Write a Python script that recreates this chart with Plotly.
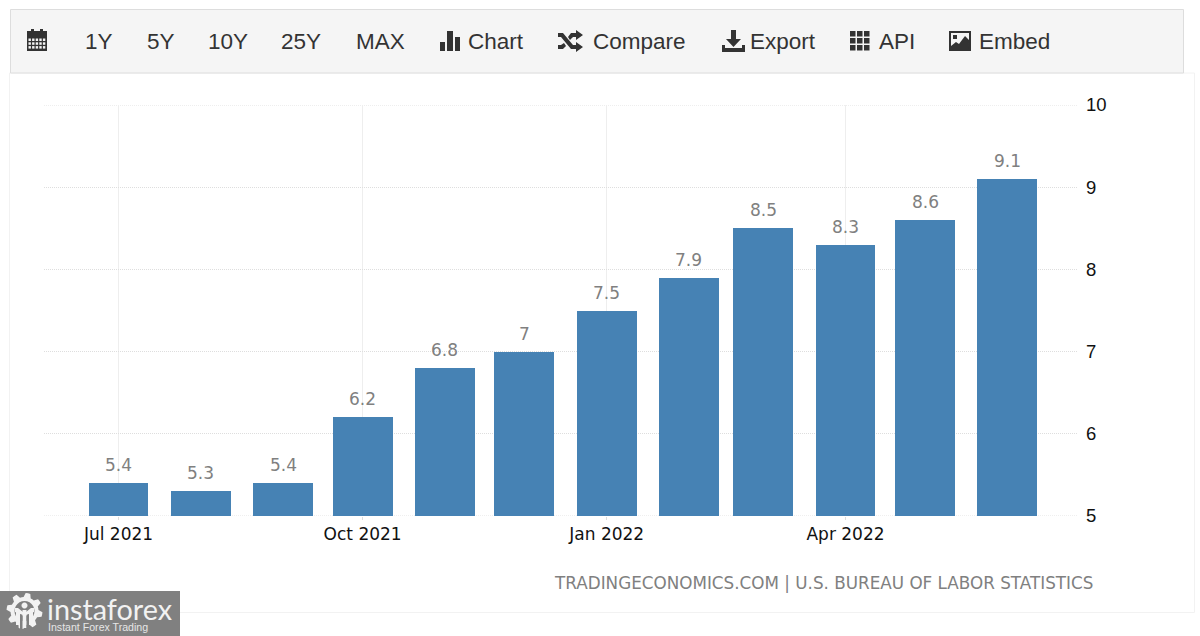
import math
import plotly.graph_objects as go

months = ["2021-07-01","2021-08-01","2021-09-01","2021-10-01","2021-11-01","2021-12-01",
          "2022-01-01","2022-02-01","2022-03-01","2022-04-01","2022-05-01","2022-06-01"]
values = [5.4,5.3,5.4,6.2,6.8,7,7.5,7.9,8.5,8.3,8.6,9.1]
tick_dates = ["2021-07-01","2021-10-01","2022-01-01","2022-04-01"]
tick_labels = ["Jul 2021","Oct 2021","Jan 2022","Apr 2022"]
y_ticks = [5,6,7,8,9,10]
menu_items = ["1Y","5Y","10Y","25Y","MAX","Chart","Compare","Export","API","Embed"]
menu_x = [83,145,206,279,354,466,591,748,877,977]
source_text = "TRADINGECONOMICS.COM | U.S. BUREAU OF LABOR STATISTICS"

W, H = 1200, 636
L, R, T, B = 44, 1078, 105, 516
px = lambda x: (x - L) / (R - L)
py = lambda y: (B - y) / (B - T)

DAY = 86400000
BAR = "#4682b4"
GRID_H = "#dedede"
shapes, ann = [], []

def rect(x0, y0, x1, y1, fill, line=None, lw=1, layer="above"):
    shapes.append(dict(type="rect", xref="paper", yref="paper", x0=px(x0), x1=px(x1), y0=py(y0), y1=py(y1),
                       fillcolor=fill, line=dict(color=line or fill, width=lw if line else 0), layer=layer))

def path(points, fill):
    d = "M" + " L".join(f"{px(a):.5f},{py(b):.5f}" for a, b in points) + " Z"
    shapes.append(dict(type="path", xref="paper", yref="paper", path=d, fillcolor=fill, line=dict(width=0), layer="above"))

def disc(cx, cy, r, fill):
    path([(cx + r * math.cos(i / 24 * 2 * math.pi), cy + r * math.sin(i / 24 * 2 * math.pi)) for i in range(24)], fill)

def text(x, y, s, size, color, font="Liberation Sans", anchor="left"):
    ann.append(dict(xref="paper", yref="paper", x=px(x), y=py(y), text=s, showarrow=False, xanchor=anchor,
                    yanchor="middle", font=dict(family=font, size=size, color=color)))

# end gridlines, which the axis leaves out at the edges of its range
for yv in (y_ticks[0], y_ticks[-1]):
    shapes.append(dict(type="line", xref="paper", yref="y", x0=0, x1=1, y0=yv, y1=yv, layer="below",
                       line=dict(color=GRID_H, width=1, dash="1px,1px")))

# page frame and toolbar
rect(9.5, 73, 1194.5, 612.5, "rgba(0,0,0,0)", "#f2f2f2", 1, "below")
rect(10.5, 9.5, 1183.5, 73, "#f5f5f5", "#dddddd", 1)
INK = "#333333"
for s, x in zip(menu_items, menu_x):
    text(x, 41.5, s, 22.5, INK)

# calendar icon
rect(27, 32, 47, 51, INK)
rect(27, 31, 47, 36, INK)
rect(31, 29, 34, 33, INK); rect(40, 29, 43, 33, INK)
for r in range(3):
    for c in range(5):
        rect(28.5 + c * 3.6, 38.5 + r * 3.8, 30.9 + c * 3.6, 41 + r * 3.8, "#f5f5f5")
# bar chart icon
rect(440, 42, 445, 51, INK); rect(447, 31, 453, 51, INK); rect(455, 37, 460, 51, INK)
# shuffle icon
path([(558,33),(563,33),(573,45),(576,45),(576,42),(583,47),(576,52),(576,49),(571,49),(561,37),(558,37)], INK)
path([(558,49),(563,49),(566,46),(564,43),(561,45),(558,45)], INK)
path([(568,37),(571,33),(576,33),(576,30),(583,35),(576,40),(576,37),(573,37),(570,40)], INK)
# download icon
path([(731,30),(736,30),(736,39),(741,39),(733.5,47),(726,39),(731,39)], INK)
path([(722,45),(725,45),(725,48),(742,48),(742,45),(745,45),(745,52),(722,52)], INK)
# API grid icon
for r in range(3):
    for c in range(3):
        rect(850 + c * 7, 31 + r * 7, 855.5 + c * 7, 36.5 + r * 7, INK)
# image icon
rect(949, 31, 971, 51, INK)
rect(951, 33, 969, 47, "#f5f5f5")
rect(953, 35, 957, 39, INK)
path([(951,49),(951,46),(956,42),(959,44),(965,36),(969,40),(969,49)], INK)

# source line
text(1094.5, 583, source_text, 16.8, "#808080", "DejaVu Sans", "right")

# watermark
WM = "#808080"
LT = "#f2f2f2"
rect(0, 591, 180, 636, WM)
gear = []
for i in range(48):
    a = (i + 0.5) / 48 * 2 * math.pi
    r = 18 if (i % 6) in (0, 1, 2) else 14
    gear.append((24.5 + r * math.cos(a), 611 + r * math.sin(a)))
path(gear, LT)
disc(24.5, 611, 10, WM)
disc(24.5, 605.5, 3, LT)
rect(22.5, 610, 26.5, 628, LT)
path([(15,608),(18,608),(23,612),(23,615),(15,612)], LT)
path([(34,608),(31,608),(26,612),(26,615),(34,612)], LT)
rect(16, 611, 20, 625, LT)
rect(29, 611, 33, 625, LT)
rect(20, 616, 22.5, 630, WM)
rect(26.5, 616, 29, 630, WM)
text(45, 609, "instaforex", 28.8, LT, "Lato")
text(46, 627, "Instant Forex Trading", 10.6, "#e6e6e6", "Liberation Sans")

# value labels anchored to the bars
for m, v in zip(months, values):
    ann.append(dict(xref="x", yref="y", x=m, y=v, text=str(v), showarrow=False, xanchor="center",
                    yanchor="bottom", yshift=6, font=dict(family="DejaVu Sans", size=17, color="#808080")))

fig = go.Figure(go.Bar(
    x=months, y=values, width=22.6 * DAY, marker=dict(color=BAR, line=dict(width=0)),
    hoverinfo="x+y",
))
fig.update_layout(
    width=W, height=H, autosize=False, showlegend=False,
    paper_bgcolor="white", plot_bgcolor="white",
    margin=dict(l=L, r=W - R, t=T, b=H - B, autoexpand=False),
    bargap=0, shapes=shapes, annotations=ann,
    xaxis=dict(type="date", range=["2021-06-02 22:00", "2022-06-27 15:00"],
               tickmode="array", tickvals=tick_dates, ticktext=tick_labels,
               showgrid=True, gridcolor="#eeeeee", gridwidth=1, zeroline=False,
               ticks="outside", ticklen=3, tickcolor="#dddddd", showline=False,
               tickfont=dict(family="DejaVu Sans", size=17, color="#111111")),
    yaxis=dict(range=[5, 10], side="right", tickmode="array", tickvals=y_ticks,
               showgrid=True, griddash="1px,1px", gridcolor=GRID_H, gridwidth=1, zeroline=False,
               ticks="", ticklabelstandoff=7, showline=False,
               tickfont=dict(family="Liberation Sans", size=18.5, color="#111111")),
)
fig.write_html("out.html", config=dict(displayModeBar=False),
               post_script="document.body.style.margin='0';document.body.style.overflow='hidden';window.scrollTo(0,0);")
